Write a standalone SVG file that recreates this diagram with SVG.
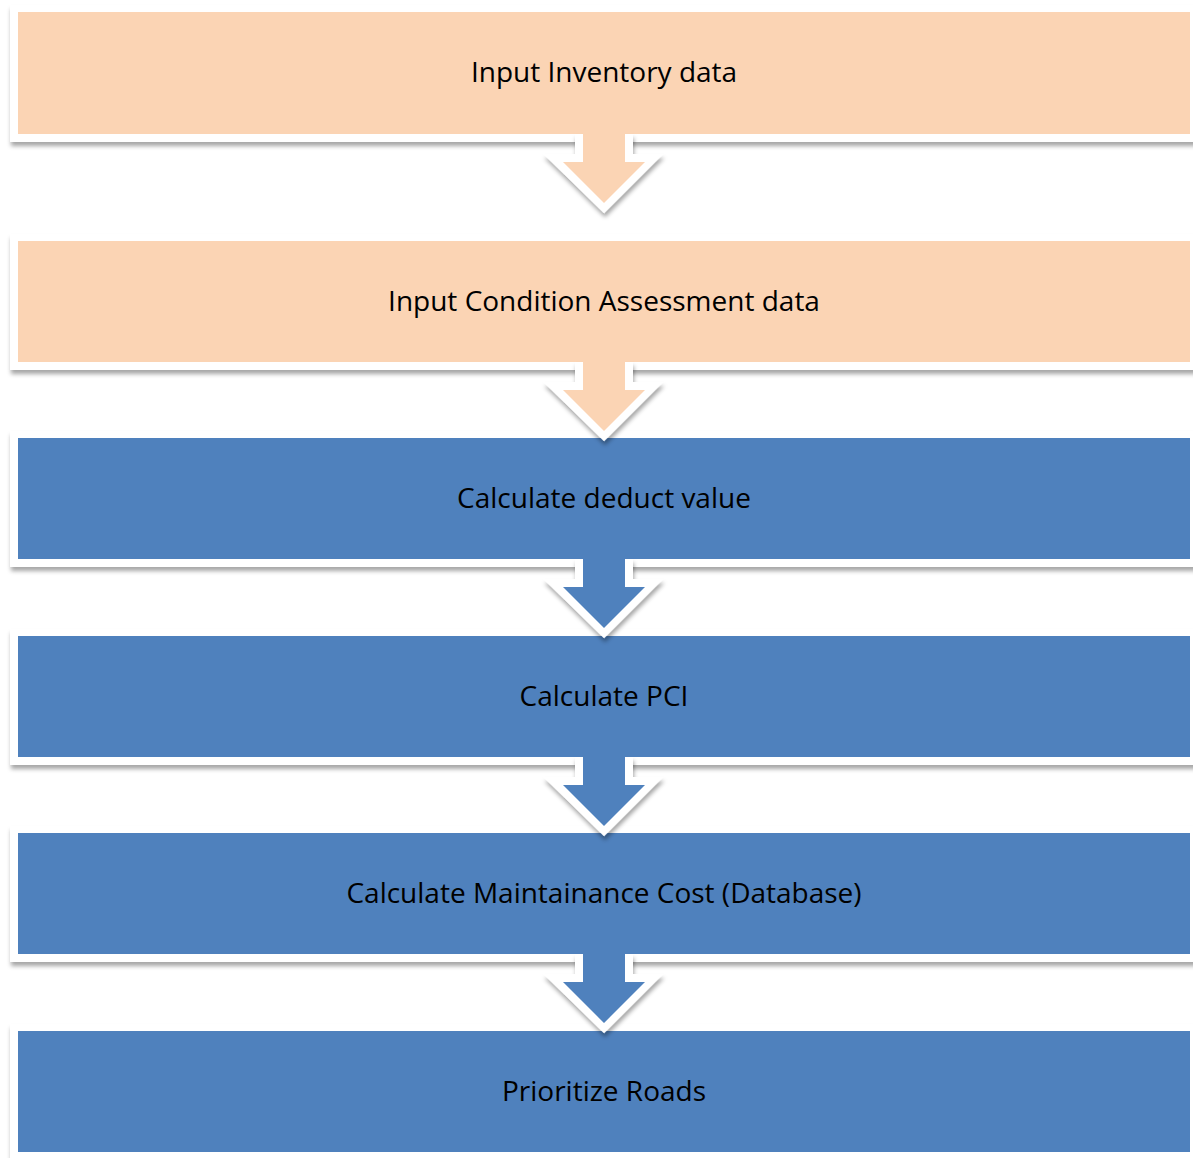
<svg xmlns="http://www.w3.org/2000/svg" width="1193" height="1158" viewBox="0 0 1193 1158">
<defs>
<filter id="sh" x="-50%" y="-50%" width="200%" height="200%">
<feDropShadow dx="1" dy="4" stdDeviation="2" flood-color="#000" flood-opacity="0.35"/>
</filter>
<style>
.frame{fill:#fff;filter:url(#sh)}
.peach{fill:#FBD4B4}
.blue{fill:#4F81BD}
.aout{fill:#fff;stroke:#fff;stroke-width:16;stroke-linejoin:miter;stroke-miterlimit:10;filter:url(#sh)}
.lbl{font-family:"Open Sans","Liberation Sans",sans-serif;font-size:28px;fill:#000;text-anchor:middle;dominant-baseline:central}
</style>
</defs>
<rect width="1193" height="1158" fill="#fff"/>
<g id="node1"><rect class="frame" x="10" y="5" width="1190" height="137"/><rect class="peach" x="18" y="12" width="1172" height="122"/><text class="lbl" x="604" y="71">Input Inventory data</text></g>
<g id="node2"><rect class="frame" x="10" y="234" width="1190" height="136"/><rect class="peach" x="18" y="241" width="1172" height="121"/><text class="lbl" x="604" y="300">Input Condition Assessment data</text></g>
<g id="node3"><rect class="frame" x="10" y="431" width="1190" height="136"/><rect class="blue" x="18" y="438" width="1172" height="121"/><text class="lbl" x="604" y="497">Calculate deduct value</text></g>
<g id="node4"><rect class="frame" x="10" y="629" width="1190" height="136"/><rect class="blue" x="18" y="636" width="1172" height="121"/><text class="lbl" x="604" y="695">Calculate PCI</text></g>
<g id="node5"><rect class="frame" x="10" y="826" width="1190" height="136"/><rect class="blue" x="18" y="833" width="1172" height="121"/><text class="lbl" x="604" y="892">Calculate Maintainance Cost (Database)</text></g>
<g id="node6"><rect class="frame" x="10" y="1024" width="1190" height="136"/><rect class="blue" x="18" y="1031" width="1172" height="121"/><text class="lbl" x="604" y="1090">Prioritize Roads</text></g>
<g id="connectors">
<g transform="translate(0,134)"><polygon class="aout" points="583,8 625,8 625,28 644,28 604,68 563,28 583,28"/><polygon class="peach" points="583,-1 625,-1 625,28 645,28 604,69 563,28 583,28"/></g>
<g transform="translate(0,362)"><polygon class="aout" points="583,8 625,8 625,28 644,28 604,68 563,28 583,28"/><polygon class="peach" points="583,-1 625,-1 625,28 645,28 604,69 563,28 583,28"/></g>
<g transform="translate(0,559)"><polygon class="aout" points="583,8 625,8 625,28 644,28 604,68 563,28 583,28"/><polygon class="blue" points="583,-1 625,-1 625,28 645,28 604,69 563,28 583,28"/></g>
<g transform="translate(0,757)"><polygon class="aout" points="583,8 625,8 625,28 644,28 604,68 563,28 583,28"/><polygon class="blue" points="583,-1 625,-1 625,28 645,28 604,69 563,28 583,28"/></g>
<g transform="translate(0,954)"><polygon class="aout" points="583,8 625,8 625,28 644,28 604,68 563,28 583,28"/><polygon class="blue" points="583,-1 625,-1 625,28 645,28 604,69 563,28 583,28"/></g>
</g>
</svg>
